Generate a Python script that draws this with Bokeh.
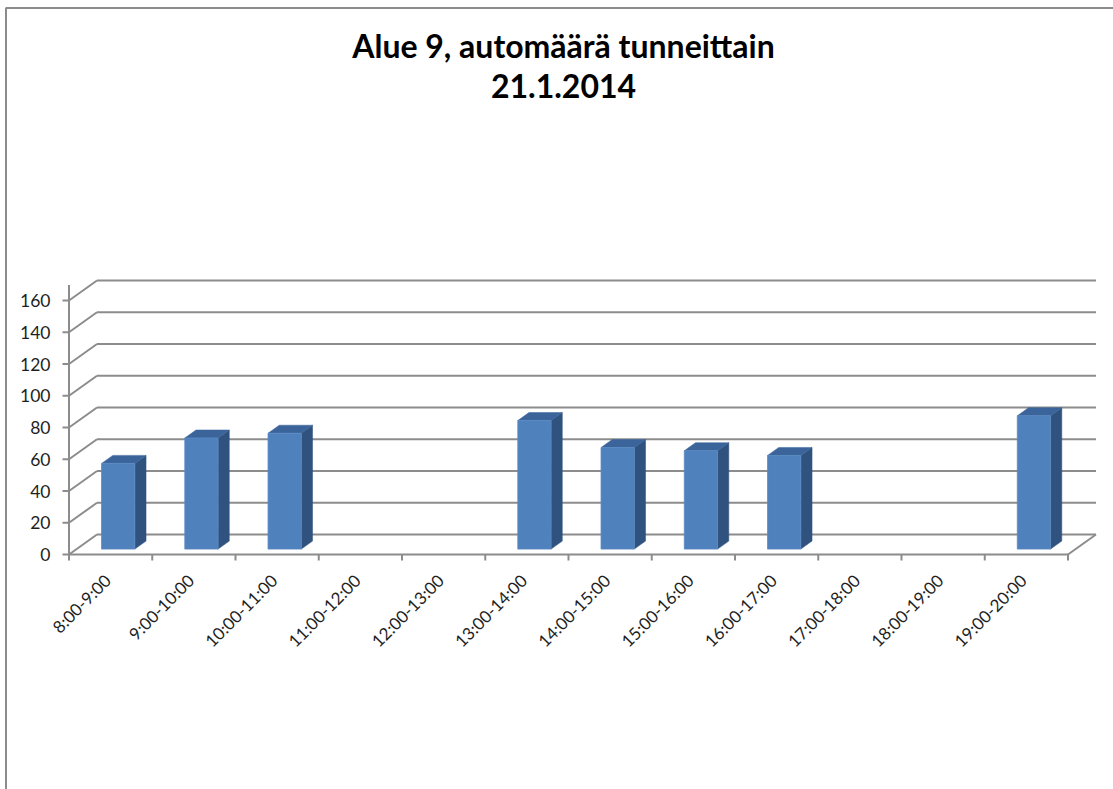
from bokeh.plotting import figure
from bokeh.models import Range1d, ColumnDataSource
from bokeh.core.properties import value
from bokeh.embed import file_html
from bokeh.resources import INLINE

# Hourly car counts, area 9, 21.1.2014 (None = no count for that hour)
hours = ["8:00-9:00", "9:00-10:00", "10:00-11:00", "11:00-12:00",
         "12:00-13:00", "13:00-14:00", "14:00-15:00", "15:00-16:00",
         "16:00-17:00", "17:00-18:00", "18:00-19:00", "19:00-20:00"]
cars = [54, 70, 73, None, None, 81, 64, 62, 59, None, None, 84]
y_ticks = [0, 20, 40, 60, 80, 100, 120, 140, 160]
title_lines = ["Alue 9, automäärä tunneittain", "21.1.2014"]

# Canvas and oblique-projection geometry
W, H = 1113, 789
X0, CAT = 68.5, 83.25      # px of the front-left corner, px per category
Y0, UNIT = 554.0, 1.5875   # px of the front floor edge, px per car
DX = 28 / CAT              # back-wall shift to the right (categories)
DY = 20 / UNIT             # back-wall shift upwards (cars)
BAR_HALF = 0.2             # half bar width (categories)
D_FRONT, D_BACK = 0.27, 0.67   # depth of bar front / back faces (0..1)

GRID = "#8c8c8c"
FRONT, SIDE, TOP = "#4f81bd", "#30527e", "#3b659a"
FONT = value("Lato")
INK = "#1f1f1f"

n = len(hours)

p = figure(width=W, height=H, output_backend="svg", toolbar_location=None,
           x_range=Range1d(-X0 / CAT, (W - X0) / CAT),
           y_range=Range1d(-(H - Y0) / UNIT, Y0 / UNIT),
           x_axis_location=None, y_axis_location=None,
           min_border=0, outline_line_color=None)
p.grid.visible = False

# Outer chart border (left and top edges)
bx = (5.5 - X0) / CAT
by = (Y0 - 7.5) / UNIT
p.line([bx, bx, (W - X0) / CAT], [-(H - Y0) / UNIT, by, by],
       line_color=GRID, line_width=2)

# Back wall gridlines
p.multi_line(xs=[[DX, n + DX] for t in y_ticks],
             ys=[[t + DY, t + DY] for t in y_ticks],
             line_color=GRID, line_width=2)
# Side wall diagonals
p.multi_line(xs=[[0, DX] for t in y_ticks],
             ys=[[t, t + DY] for t in y_ticks],
             line_color=GRID, line_width=2)
# Floor: right edge and front edge (category axis)
p.line([n, n + DX], [0, DY], line_color=GRID, line_width=2)
p.line([0, n], [0, 0], line_color=GRID, line_width=2)
# Category tick marks at the boundaries
p.segment(x0=list(range(n + 1)), y0=[0] * (n + 1),
          x1=list(range(n + 1)), y1=[-6 / UNIT] * (n + 1),
          line_color=GRID, line_width=2)
# Value axis line and ticks
p.line([0, 0], [0, y_ticks[-1] + 15.5 / UNIT], line_color=GRID, line_width=2)
p.segment(x0=[-6.5 / CAT] * len(y_ticks), y0=y_ticks,
          x1=[0] * len(y_ticks), y1=y_ticks,
          line_color=GRID, line_width=2)

# 3D columns
fl, fr, fb, ft = [], [], [], []
side_x, side_y, top_x, top_y = [], [], [], []
for i, v in enumerate(cars):
    if v is None:
        continue
    c = i + 0.5
    l = c - BAR_HALF + D_FRONT * DX
    r = c + BAR_HALF + D_FRONT * DX
    b = D_FRONT * DY
    t = v + D_FRONT * DY
    ddx = (D_BACK - D_FRONT) * DX
    ddy = (D_BACK - D_FRONT) * DY
    fl.append(l); fr.append(r); fb.append(b); ft.append(t)
    side_x.append([r, r + ddx, r + ddx, r])
    side_y.append([b, b + ddy, t + ddy, t])
    top_x.append([l, r, r + ddx, l + ddx])
    top_y.append([t, t, t + ddy, t + ddy])

p.patches(side_x, side_y, fill_color=SIDE, line_color=SIDE, line_width=0.5)
p.patches(top_x, top_y, fill_color=TOP, line_color=TOP, line_width=0.5)
p.quad(left=fl, right=fr, bottom=fb, top=ft,
       fill_color=FRONT, line_color="#5a8ac4", line_width=0.8)

# Value tick labels
p.text(x=[-18.5 / CAT] * len(y_ticks), y=y_ticks, text=[str(t) for t in y_ticks],
       text_align="right", text_baseline="middle", text_font=FONT,
       text_font_size="17.5px", text_color=INK)

# Category labels, rotated 45 degrees
cat_src = ColumnDataSource(dict(x=[i + 0.5 - 3 / CAT for i in range(n)],
                                y=[-23 / UNIT] * n, text=hours))
p.text(x="x", y="y", text="text", source=cat_src, angle=0.7854,
       text_align="right", text_baseline="middle", text_font=FONT,
       text_font_size="17px", text_color=INK)

# Two-line chart title
tx = (563 - X0) / CAT
p.text(x=[tx, tx], y=[(Y0 - 45) / UNIT, (Y0 - 85) / UNIT], text=title_lines,
       text_align="center", text_baseline="middle", text_font=FONT,
       text_font_style="bold", text_font_size="32px", text_color="#000000")

open("out.html", "w").write(file_html(p, INLINE))
